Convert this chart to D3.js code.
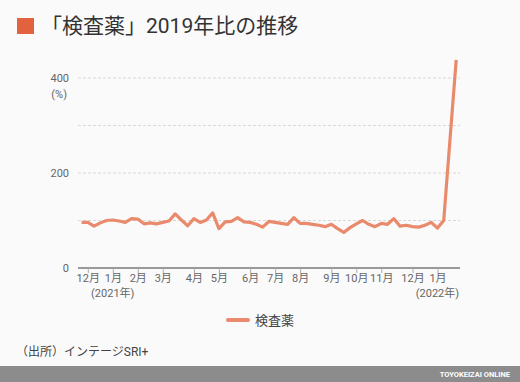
<!DOCTYPE html>
<html>
<head>
<meta charset="utf-8">
<script src="https://cdn.jsdelivr.net/npm/d3@7"></script>
<style>
  body { margin: 0; background: #fafafa; }
  svg { display: block; font-family: "Roboto", "Noto Sans CJK JP", sans-serif; }
</style>
</head>
<body>
<div id="chart"></div>
<script>
// Weekly data (week starting Monday), 2019 = 100
var firstWeek = new Date(2020, 10, 30);
var lastWeek = new Date(2022, 0, 24);
var weeks = d3.timeMonday.range(firstWeek, d3.timeDay.offset(lastWeek, 1));

var seriesName = "検査薬";
var values = [96, 96, 88, 95, 100, 101, 99, 96, 104, 103,
              93, 95, 93, 96, 99, 114, 101, 89, 104, 96,
              101, 116, 83, 97, 98, 106, 97, 96, 92, 86,
              98, 96, 94, 92, 106, 94, 94, 92, 90, 87,
              92, 83, 75, 85, 93, 100, 92, 87, 94, 92,
              104, 88, 90, 87, 86, 90, 96, 84, 100, 270,
              438];

// month ticks (first Monday of each month)
var tickDates = [new Date(2020, 11, 7), new Date(2021, 0, 4), new Date(2021, 1, 1),
                 new Date(2021, 2, 1), new Date(2021, 3, 5), new Date(2021, 4, 3),
                 new Date(2021, 5, 7), new Date(2021, 6, 5), new Date(2021, 7, 2),
                 new Date(2021, 8, 6), new Date(2021, 9, 4), new Date(2021, 10, 1),
                 new Date(2021, 11, 6), new Date(2022, 0, 3)];
var tickLabels = ["12月", "1月", "2月", "3月", "4月", "5月", "6月", "7月",
                  "8月", "9月", "10月", "11月", "12月", "1月"];
var yearLabels = [{ date: new Date(2021, 0, 4), text: "(2021年)" },
                  { date: new Date(2022, 0, 3), text: "(2022年)" }];
var yTicks = [0, 100, 200, 300, 400];

var svgWidth = 520;
var svgHeight = 382;

var svg = d3.select("#chart")
  .append("svg")
  .attr("width", svgWidth)
  .attr("height", svgHeight);

svg.append("rect")
  .attr("width", svgWidth)
  .attr("height", svgHeight)
  .attr("fill", "#fafafa");

// Title
svg.append("rect")
  .attr("x", 17).attr("y", 18)
  .attr("width", 17).attr("height", 16)
  .attr("fill", "#e2623e");

svg.append("text")
  .attr("x", 41)
  .attr("y", 33)
  .attr("font-size", 21)
  .attr("fill", "#333")
  .text("「検査薬」2019年比の推移");

// Scales
var x = d3.scaleTime()
  .domain([d3.timeDay.offset(firstWeek, -4), d3.timeDay.offset(lastWeek, 2)])
  .range([78, 458]);

var y = d3.scaleLinear()
  .domain([0, 400])
  .range([268, 78]);

// Grid lines
svg.append("g")
  .selectAll("line")
  .data(yTicks.filter(d => d > 0))
  .enter()
  .append("line")
  .attr("x1", 78)
  .attr("x2", 460)
  .attr("y1", d => y(d))
  .attr("y2", d => y(d))
  .attr("stroke", "#d8d8d8")
  .attr("stroke-width", 1)
  .attr("stroke-dasharray", "3,2");

// Y labels
svg.append("g")
  .selectAll("text")
  .data([0, 200, 400])
  .enter()
  .append("text")
  .attr("x", 69)
  .attr("y", d => y(d))
  .attr("dy", "0.35em")
  .attr("text-anchor", "end")
  .attr("font-size", 11)
  .attr("fill", "#666")
  .text(d => d);

svg.append("text")
  .attr("x", 67)
  .attr("y", 94)
  .attr("dy", "0.35em")
  .attr("text-anchor", "end")
  .attr("font-size", 11)
  .attr("fill", "#666")
  .text("(%)");

// X axis
var xAxis = d3.axisBottom(x)
  .tickValues(tickDates)
  .tickSize(5)
  .tickPadding(1)
  .tickFormat((d, i) => tickLabels[i]);

var axisG = svg.append("g")
  .attr("transform", "translate(0, 268)")
  .call(xAxis);

axisG.select(".domain")
  .attr("d", "M78,0H460")
  .attr("stroke", "#999")
  .attr("stroke-width", 2);
axisG.selectAll(".tick line").attr("stroke", "#aaa");
axisG.selectAll(".tick text")
  .attr("font-size", 11)
  .attr("fill", "#666")
  .attr("font-family", "Roboto, 'Noto Sans CJK JP', sans-serif");

svg.append("g")
  .selectAll("text")
  .data(yearLabels)
  .enter()
  .append("text")
  .attr("x", d => x(d.date))
  .attr("y", 293)
  .attr("dy", "0.35em")
  .attr("text-anchor", "middle")
  .attr("font-size", 11)
  .attr("fill", "#666")
  .text(d => d.text);

// Line
var line = d3.line()
  .x((d, i) => x(weeks[i]))
  .y(d => y(d));

svg.append("path")
  .datum(values)
  .attr("d", line)
  .attr("fill", "none")
  .attr("stroke", "#e98a6c")
  .attr("stroke-width", 3.2)
  .attr("stroke-linejoin", "round");

// Legend
svg.append("line")
  .attr("x1", 228).attr("x2", 248)
  .attr("y1", 320).attr("y2", 320)
  .attr("stroke", "#e98a6c")
  .attr("stroke-width", 4)
  .attr("stroke-linecap", "round");

svg.append("text")
  .attr("x", 255)
  .attr("y", 320)
  .attr("dy", "0.35em")
  .attr("font-size", 13)
  .attr("fill", "#444")
  .text(seriesName);

// Source
svg.append("text")
  .attr("x", 16)
  .attr("y", 352)
  .attr("dy", "0.35em")
  .attr("font-size", 12)
  .attr("fill", "#444")
  .text("（出所）インテージSRI+");

// Footer bar
svg.append("rect")
  .attr("x", 0).attr("y", 366)
  .attr("width", svgWidth).attr("height", 16)
  .attr("fill", "#8c8c8c");

svg.append("text")
  .attr("x", 510)
  .attr("y", 374)
  .attr("dy", "0.35em")
  .attr("text-anchor", "end")
  .attr("font-size", 7.5)
  .attr("font-weight", "bold")
  .attr("fill", "#fff")
  .text("TOYOKEIZAI ONLINE");
</script>
</body>
</html>
